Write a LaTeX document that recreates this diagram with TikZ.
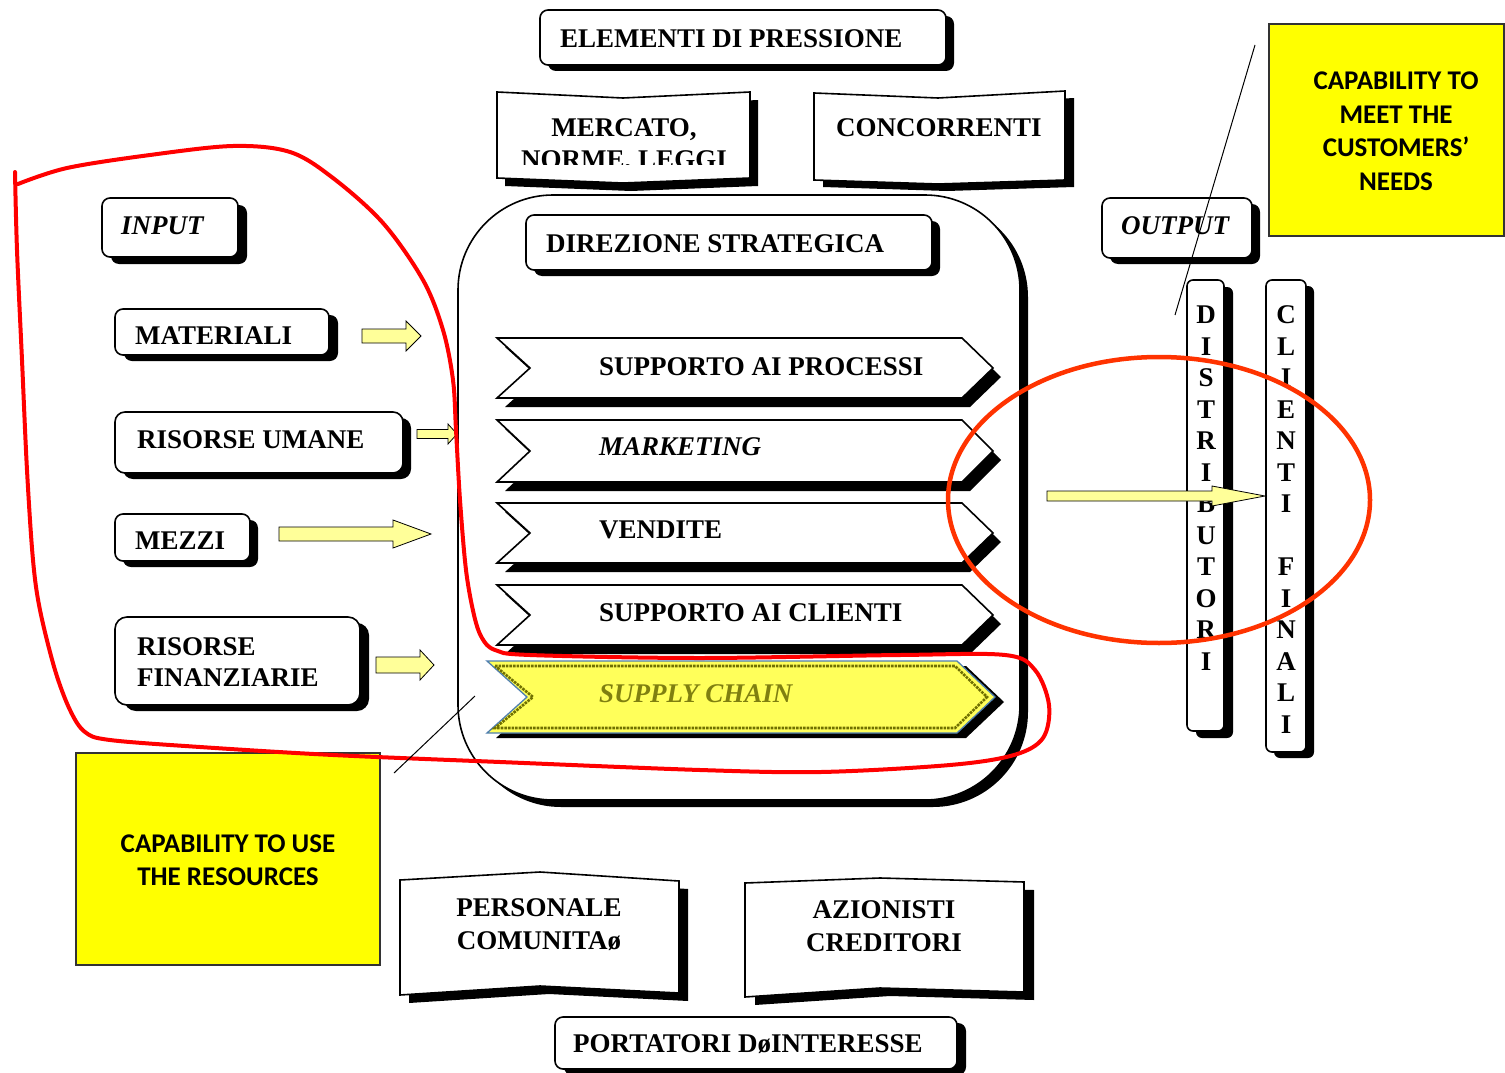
\documentclass[tikz,border=0pt]{standalone}
\usepackage{fontspec}
\setmainfont{Liberation Serif}
\newfontfamily\calfont{Carlito}
\usetikzlibrary{calc}

\definecolor{lightyel}{HTML}{FFFF99}
\definecolor{capyel}{HTML}{FFFF00}
\definecolor{supyel}{HTML}{FFFF5A}
\definecolor{olivetx}{HTML}{7F7F10}
\definecolor{olivebd}{HTML}{707000}
\definecolor{steel}{HTML}{4F7FB0}
\definecolor{redline}{HTML}{FF0000}
\definecolor{orangered}{HTML}{FF3300}

\tikzset{
 boxline/.style={draw=black, line width=1.6pt, fill=white},
 lbl/.style={font=\fontsize{27}{31}\selectfont\bfseries, inner sep=0pt, anchor=west},
 clbl/.style={font=\fontsize{27}{33}\selectfont\bfseries, inner sep=0pt, align=center},
 letter/.style={font=\fontsize{27}{31}\selectfont\bfseries, inner sep=0pt},
 blkarrow/.style={draw=black, line width=0.8pt, fill=lightyel},
 capbox/.style={draw=black!80, line width=1.2pt, fill=capyel},
 captxt/.style={font=\calfont\bfseries\fontsize{27}{33.5}\selectfont, align=center, inner sep=0pt},
 redpen/.style={draw=redline, line width=4pt, line cap=round, line join=round},
 orpen/.style={draw=orangered, line width=4.5pt},
 thinline/.style={draw=black, line width=1pt},
}

\newcommand\myshbox[7]{%
 \fill[black,rounded corners=#7] ({#1+#5},{#2+#6}) rectangle ({#3+#5},{#4+#6});
 \draw[boxline,rounded corners=#7] (#1,#2) rectangle (#3,#4);}

\newcommand\chev[6]{% top bot left notch right tip
 \fill[black] ({#3+8},{#1+9}) -- ({#5+8},{#1+9}) -- ({#6+8},{(#1+#2)/2+9}) -- ({#5+8},{#2+9}) -- ({#3+8},{#2+9}) -- ({#4+8},{(#1+#2)/2+9}) -- cycle;
 \draw[boxline] (#3,#1) -- (#5,#1) -- (#6,{(#1+#2)/2}) -- (#5,#2) -- (#3,#2) -- (#4,{(#1+#2)/2}) -- cycle;}

\newcommand\barrow[5]{% start end shafthalf headhalf headlen
 \draw[blkarrow] ($(#1)+(0,-#3)$) -- ($(#2)+(-#5,-#3)$) -- ($(#2)+(-#5,-#4)$) -- (#2) -- ($(#2)+(-#5,#4)$) -- ($(#2)+(-#5,#3)$) -- ($(#1)+(0,#3)$) -- cycle;}

\begin{document}
\begin{tikzpicture}[x=1pt,y=-1pt]
\useasboundingbox (0,0) rectangle (1505,1073);
\fill[white] (0,0) rectangle (1505,1073);

% ---------- top pressure boxes
\myshbox{540}{10}{946}{65}{8}{6}{8pt}
\node[lbl] (elem) at (560,39) {ELEMENTI DI PRESSIONE};

\fill[black,shift={(8,8)}] (497,92) -- (623,98) -- (750,92) -- (750,178) -- (623,183) -- (497,178) -- cycle;
\draw[boxline] (497,92) -- (623,98) -- (750,92) -- (750,178) -- (623,183) -- (497,178) -- cycle;
\begin{scope}
\clip (497,92) rectangle (750,164);
\node[letter, anchor=base] (merc1) at (624,136) {MERCATO,};
\node[letter, anchor=base] (merc2) at (624,168) {NORME, LEGGI};
\end{scope}

\fill[black,shift={(9,7)}] (814,93) -- (938,98) -- (1065,91) -- (1065,180) -- (938,184) -- (814,180) -- cycle;
\draw[boxline] (814,93) -- (938,98) -- (1065,91) -- (1065,180) -- (938,184) -- (814,180) -- cycle;
\node[letter] (conc) at (939,128) {CONCORRENTI};

% ---------- central organisation
\myshbox{458}{195}{1020}{800}{8}{7}{95pt}
\myshbox{526}{215}{932}{270}{8}{6}{8pt}
\node[lbl] (dir) at (546,244) {DIREZIONE STRATEGICA};

\chev{338}{398}{497}{530}{962}{993}
\node[lbl] (sup1) at (599,367) {SUPPORTO AI PROCESSI};
\chev{420}{482}{497}{530}{962}{993}
\node[lbl, font=\fontsize{27}{31}\selectfont\bfseries\itshape] (mkt) at (599,447) {MARKETING};
\chev{503}{563}{497}{530}{962}{993}
\node[lbl] (vend) at (599,530) {VENDITE};
\chev{585}{645}{497}{530}{962}{993}
\node[lbl] (sup2) at (599,613) {SUPPORTO AI CLIENTI};

% supply chain
\fill[black,shift={(9,5)}] (487,661) -- (957,661) -- (995,697) -- (957,733) -- (487,733) -- (527,697) -- cycle;
\draw[draw=steel, line width=1.3pt, fill=supyel] (487,661) -- (957,661) -- (995,697) -- (957,733) -- (487,733) -- (527,697) -- cycle;
\draw[draw=olivebd, line width=2.6pt, densely dotted] (495,666) -- (955,666) -- (987,697) -- (955,728) -- (495,728) -- (533,697) -- cycle;
\node[lbl, font=\fontsize{27}{31}\selectfont\bfseries\itshape, text=olivetx] (supply) at (599,694) {SUPPLY CHAIN};

% ---------- inputs
\myshbox{102}{198}{238}{257}{9}{7}{8pt}
\node[lbl, font=\fontsize{27}{31}\selectfont\bfseries\itshape] (inp) at (121,226) {INPUT};
\myshbox{115}{309}{329}{355}{9}{6}{8pt}
\node[lbl] (mat) at (135,336) {MATERIALI};
\myshbox{115}{412}{403}{473}{8}{6}{10pt}
\node[lbl] (ru) at (137,440) {RISORSE UMANE};
\myshbox{115}{514}{250}{561}{8}{6}{8pt}
\node[lbl] (mez) at (135,541) {MEZZI};
\myshbox{115}{617}{360}{705}{9}{6}{12pt}
\node[lbl, align=left, font=\fontsize{27}{31}\selectfont\bfseries] (rf) at (137,662) {RISORSE\\FINANZIARIE};

\coordinate (am1) at (362,336); \coordinate (am2) at (421,336);
\barrow{am1}{am2}{7}{15}{15}
\coordinate (ar1) at (417,434); \coordinate (ar2) at (457,434);
\barrow{ar1}{ar2}{4.5}{10}{9}
\coordinate (az1) at (279,534); \coordinate (az2) at (431,534);
\barrow{az1}{az2}{7}{14}{38}
\coordinate (af1) at (376,665); \coordinate (af2) at (434,665);
\barrow{af1}{af2}{8}{15}{14}

% ---------- outputs
\myshbox{1102}{198}{1252}{258}{8}{6}{8pt}
\node[lbl, font=\fontsize{27}{31}\selectfont\bfseries\itshape] (outp) at (1121,226) {OUTPUT};
\myshbox{1187}{280}{1224}{731}{9}{7}{6pt}
\myshbox{1266}{280}{1306}{752}{8}{6}{6pt}
\foreach \l [count=\i from 0] in {D,I,S,T,R,I,B,U,T,O,R,I}
  \node[letter] (dist\i) at (1206,{315+31.5*\i}) {\l};
\foreach \l [count=\i from 0] in {C,L,I,E,N,T,I}
  \node[letter] (cli\i) at (1286,{315+31.5*\i}) {\l};
\foreach \l [count=\i from 8] in {F,I,N,A,L,I}
  \node[letter] (fin\i) at (1286,{315+31.5*\i}) {\l};

\coordinate (bg1) at (1047,496); \coordinate (bg2) at (1265,496);
\barrow{bg1}{bg2}{5}{10}{53}

% ---------- yellow notes
\draw[capbox] (1269,24) rectangle (1504,236);
\node[captxt] (meet) at (1396,131) {CAPABILITY TO\\MEET THE\\CUSTOMERS’\\NEEDS};
\draw[capbox] (76,753) rectangle (380,965);
\node[captxt] (use) at (228,860) {CAPABILITY TO USE\\THE RESOURCES};

% ---------- stakeholders
\fill[black,shift={(9,8)}] (400,880) -- (540,872) -- (679,881) -- (679,993) -- (540,986) -- (400,995) -- cycle;
\draw[boxline] (400,880) -- (540,872) -- (679,881) -- (679,993) -- (540,986) -- (400,995) -- cycle;
\node[clbl] (pers) at (539,925) {PERSONALE\\COMUNITAø};
\fill[black,shift={(10,8)}] (745,883) -- (880,878) -- (1024,882) -- (1024,992) -- (880,988) -- (745,997) -- cycle;
\draw[boxline] (745,883) -- (880,878) -- (1024,882) -- (1024,992) -- (880,988) -- (745,997) -- cycle;
\node[clbl] (azi) at (884,926) {AZIONISTI\\CREDITORI};
\myshbox{555}{1017}{957}{1069}{9}{6}{8pt}
\node[lbl] (port) at (573,1044) {PORTATORI DøINTERESSE};

% ---------- red annotations
\draw[redpen] plot[smooth, tension=0.55] coordinates {
 (18,184) (67,168) (150,155) (233,146) (290,152) (333,178) (383,223) (423,280)
 (443,330) (453,380) (456,430) (460,500) (466,570) (474,615) (482,638) (495,650)
 (530,655) (700,658) (900,655) (1005,655) (1035,670) (1049,705) (1043,738) (1014,755)
 (950,765) (821,772) (700,770) (500,762) (333,755) (200,747) (110,740) (85,732)
 (70,710) (55,670) (40,610) (33,560) (27,470) (22,360) (17,250) (15,172)};
\draw[orpen] (1159,500) ellipse [x radius=211, y radius=143];

% ---------- pointer lines
\coordinate (p1a) at (1255,45); \coordinate (p1b) at (1175,315);
\draw[thinline] (p1a) -- (p1b);
\coordinate (p2a) at (475,696); \coordinate (p2b) at (394,773);
\draw[thinline] (p2a) -- (p2b);
\end{tikzpicture}
\end{document}
